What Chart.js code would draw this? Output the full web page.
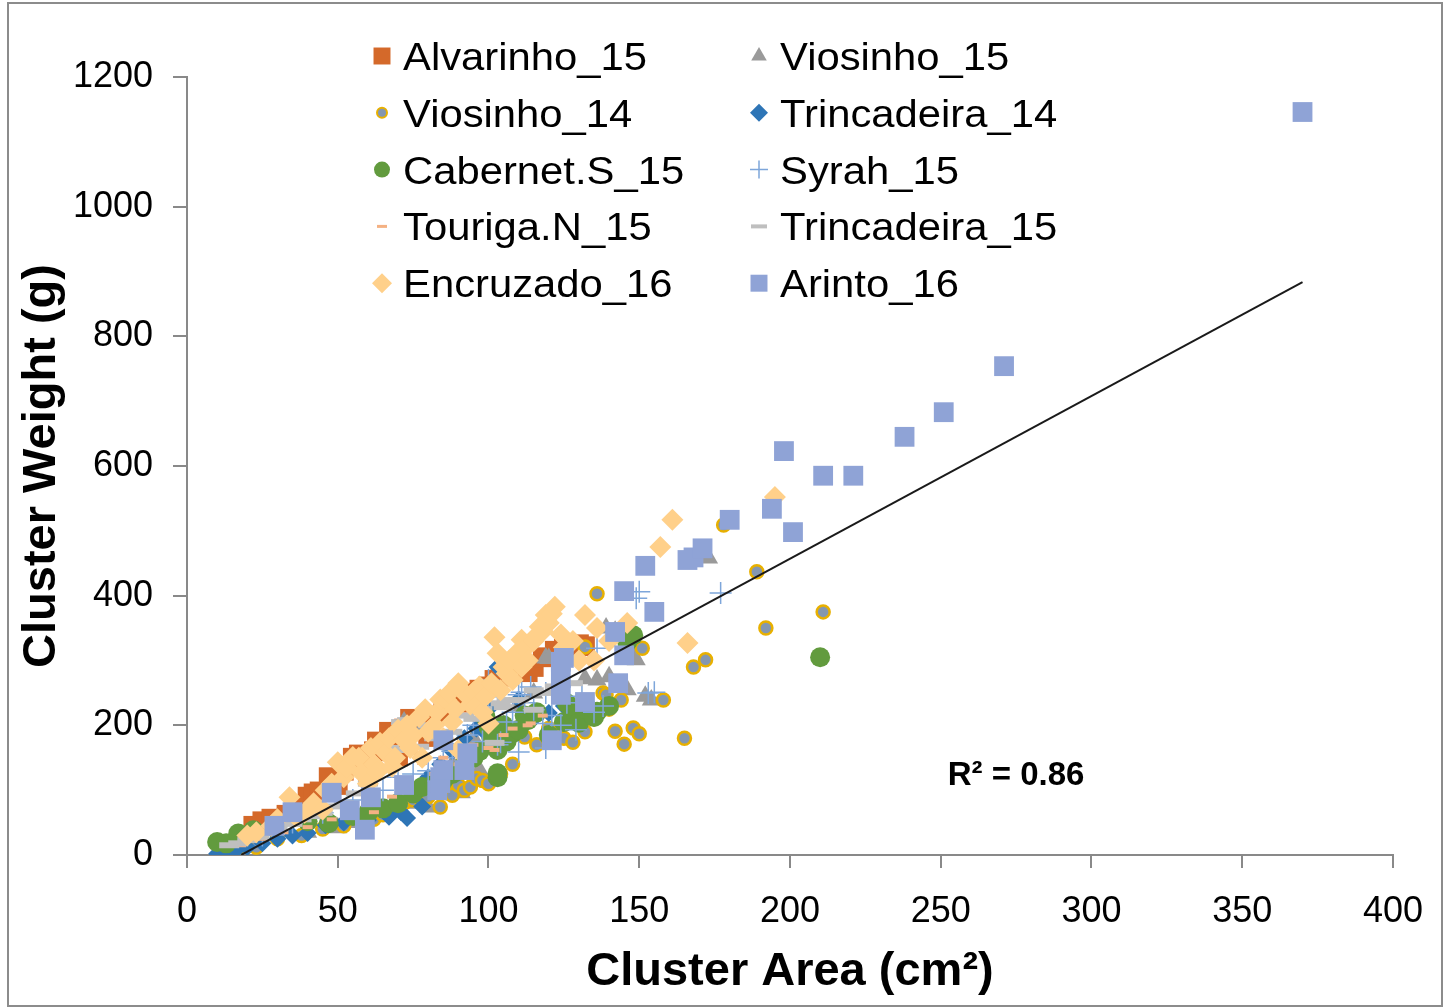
<!DOCTYPE html>
<html>
<head>
<meta charset="utf-8">
<script src="https://cdn.jsdelivr.net/npm/chart.js"></script>
<style>
body { margin: 0; background: #fff; }
#frame { position: absolute; left: 7px; top: 2px; width: 1436px; height: 1005px; border: 2px solid #8c8c8c; box-sizing: border-box; }
#wrap { position: absolute; left: 0; top: 0; width: 1445px; height: 1008px; }
</style>
</head>
<body>
<div id="frame"></div>
<div id="wrap"><canvas id="graph1"></canvas></div>
<script>
// series: [cluster area cm2, cluster weight g]
var alvarinho15 = [[22,45],[25,52],[28,56],[33,62],[36,72],[40,90],[42,95],[44,98],[47,120],[50,108],[52,130],[55,150],[57,155],[58,140],[60,122],[62,160],[63,175],[65,170],[67,190],[68,182],[70,152],[72,195],[74,210],[76,205],[78,200],[80,182],[82,215],[85,225],[86,230],[88,240],[90,235],[92,250],[95,242],[97,255],[100,260],[102,270],[104,275],[106,285],[108,295],[110,300],[113,282],[115,290],[118,305],[122,315],[125,318],[128,322],[130,325],[132,322]];
var viosinho15 = [[40,35],[50,42],[55,50],[60,55],[65,60],[70,75],[75,80],[72,205],[78,195],[80,74],[84,116],[88,140],[91,96],[95,180],[97,131],[100,170],[105,200],[110,230],[115,250],[119,304],[120,303],[125,270],[128,205],[132,272],[136,270],[139,350],[140,275],[142,345],[146,255],[148,308],[149,301],[152,245],[154,239],[173,458]];
var viosinho14 = [[17,10],[23,12],[30,25],[38,30],[45,40],[52,45],[58,50],[62,55],[65,62],[70,70],[72,80],[75,85],[78,82],[80,90],[84,74],[86,96],[88,92],[90,108],[92,100],[94,105],[96,118],[98,115],[100,110],[104,125],[108,140],[112,182],[116,170],[120,195],[122,185],[125,180],[128,174],[132,190],[132,321],[135,210],[136,403],[138,250],[139,247],[140,225],[142,191],[144,239],[145,171],[148,196],[150,187],[151,319],[158,239],[165,180],[168,290],[172,301],[178,509],[189,437],[192,350],[211,375]];
var trincadeira14 = [[10,2],[13,4],[16,6],[20,12],[25,18],[30,25],[35,30],[40,34],[46,46],[52,50],[60,54],[67,59],[71,66],[73,57],[78,75],[80,120],[84,140],[88,160],[92,180],[96,195],[98,193],[100,225],[103,290],[107,180],[110,240],[115,210],[120,219],[125,230]];
var cabernet15 = [[10,20],[13,18],[17,33],[22,38],[30,45],[40,52],[47,49],[55,60],[60,65],[65,72],[70,80],[75,95],[78,105],[82,110],[85,115],[88,125],[90,130],[92,140],[95,150],[97,160],[99,213],[100,198],[101,180],[103,120],[103,126],[103,162],[105,200],[106,175],[108,188],[110,193],[112,215],[113,208],[116,220],[120,185],[125,205],[126,234],[128,215],[130,204],[132,225],[135,213],[136,221],[140,230],[146,329],[148,339],[210,305]];
var syrah15 = [[25,30],[35,50],[45,65],[55,85],[65,100],[70,120],[75,125],[80,130],[85,150],[88,160],[90,165],[93,185],[95,200],[98,175],[100,244],[100,270],[103,170],[104,174],[106,205],[108,220],[110,159],[110,247],[111,251],[112,235],[114,259],[115,224],[118,203],[119,165],[119,250],[121,215],[124,200],[126,235],[129,193],[131,245],[135,220],[136,319],[138,230],[149,396],[150,406],[153,250],[155,251],[177,404]];
var tourigaN15 = [[18,15],[25,25],[32,35],[40,43],[48,55],[55,62],[62,66],[68,90],[72,110],[76,157],[78,142],[82,125],[85,150],[90,140],[95,170],[100,165],[102,162],[105,185],[108,195],[113,200],[114,203],[118,215]];
var trincadeira15 = [[14,15],[17,18],[20,23],[24,28],[30,40],[35,48],[38,55],[42,60],[45,65],[48,75],[52,80],[56,95],[60,110],[63,130],[67,165],[69,162],[71,205],[73,208],[77,167],[80,200],[82,180],[88,190],[92,215],[95,210],[98,225],[102,173],[104,234],[105,228],[106,239],[110,239],[115,224],[115,254],[118,250],[122,260],[128,265]];
var encruzado16 = [[20,30],[23,35],[28,45],[30,55],[34,89],[36,60],[39,65],[42,80],[45,70],[46,100],[48,110],[50,143],[52,120],[53,135],[55,151],[57,150],[58,126],[60,110],[61,165],[62,140],[63,128],[64,173],[66,157],[67,180],[68,136],[69,150],[70,193],[72,177],[73,200],[74,165],[75,185],[77,213],[78,150],[79,225],[80,190],[82,200],[83,220],[84,240],[85,180],[86,239],[87,250],[88,205],[89,225],[90,265],[90,162],[91,255],[93,245],[94,232],[95,251],[96,231],[97,260],[98,220],[99,245],[100,203],[101,265],[102,336],[103,311],[104,254],[105,290],[106,280],[107,300],[108,270],[109,310],[111,332],[111,290],[112,318],[113,300],[115,330],[116,339],[117,352],[118,345],[119,370],[120,358],[121,372],[122,383],[124,340],[125,320],[128,330],[130,300],[132,370],[135,300],[136,350],[140,330],[146,358],[157,475],[161,517],[166,327],[195,552]];
var arinto16 = [[29,45],[35,66],[48,96],[54,69],[59,39],[61,89],[72,108],[83,100],[84,111],[84,120],[85,177],[85,131],[92,131],[93,157],[121,177],[124,247],[124,273],[124,298],[125,304],[132,236],[142,344],[143,265],[145,308],[145,407],[152,446],[155,375],[166,455],[168,459],[171,473],[180,517],[194,534],[198,623],[201,498],[211,585],[221,585],[238,645],[251,683],[271,754],[370,1146]];

var seriesNames = ['Alvarinho_15', 'Viosinho_15', 'Viosinho_14', 'Trincadeira_14', 'Cabernet.S_15', 'Syrah_15', 'Touriga.N_15', 'Trincadeira_15', 'Encruzado_16', 'Arinto_16'];
var seriesData = [alvarinho15, viosinho15, viosinho14, trincadeira14, cabernet15, syrah15, tourigaN15, trincadeira15, encruzado16, arinto16];

// linear trend
var trendSlope = 2.51;
var trendIntercept = -45;
var trendRange = [18, 370];
var rSquared = '0.86';

var xTicks = [0, 400, 50];
var yTicks = [0, 1200, 200];

var seriesStyles = [
  { shape: 'rect', color: '#D4692A', radius: 14, bw: 0, lr: 12, lbw: 0 },
  { shape: 'triangle', color: '#9A9A9A', radius: 11, bw: 0, lr: 9, lbw: 0 },
  { shape: 'circle', color: '#8497B0', border: '#E8B000', radius: 6.5, bw: 2.5, lr: 5, lbw: 2 },
  { shape: 'rectRot', color: '#2E75B6', radius: 9, bw: 0, lr: 9, lbw: 0 },
  { shape: 'circle', color: '#629B3E', radius: 10, bw: 0, lr: 8, lbw: 0 },
  { shape: 'cross', color: '#7EA6DA', radius: 11, bw: 1.5, lr: 9, lbw: 1.5 },
  { shape: 'line', color: '#F4B183', radius: 5, bw: 4, lr: 5, lbw: 3 },
  { shape: 'line', color: '#BFBFBF', radius: 10, bw: 6, lr: 8, lbw: 4 },
  { shape: 'rectRot', color: '#FFD08A', radius: 11, bw: 0, lr: 10, lbw: 0 },
  { shape: 'rect', color: '#8FA3D6', radius: 14, bw: 0, lr: 12, lbw: 0 }
];

var fontFamily = '"Liberation Sans", Arial, sans-serif';
Chart.defaults.font.family = fontFamily;

var datasets = seriesNames.map(function (name, i) {
  var st = seriesStyles[i];
  return {
    label: name,
    data: seriesData[i].map(function (p) { return { x: p[0], y: p[1] }; }),
    pointStyle: st.shape,
    pointRadius: st.radius,
    backgroundColor: st.color,
    borderColor: st.border || st.color,
    borderWidth: st.bw,
    showLine: false,
    order: seriesNames.length - i
  };
});

datasets.push({
  label: 'trend',
  data: trendRange.map(function (x) { return { x: x, y: trendSlope * x + trendIntercept }; }),
  showLine: true,
  borderColor: '#1a1a1a',
  borderWidth: 2,
  pointRadius: 0,
  order: 0
});

var legendPlugin = {
  id: 'twoColLegend',
  afterDraw: function (chart) {
    var ctx = chart.ctx;
    for (var i = 0; i < seriesNames.length; i++) {
      var st = seriesStyles[i];
      var ix = i % 2 === 0 ? 382 : 759;
      var iy = 56 + Math.floor(i / 2) * 56.8;
      ctx.save();
      ctx.fillStyle = st.color;
      ctx.strokeStyle = st.border || st.color;
      ctx.lineWidth = st.lbw;
      Chart.helpers.drawPoint(ctx, { pointStyle: st.shape, radius: st.lr, borderWidth: st.lbw, rotation: 0 }, ix, iy);
      ctx.restore();

      ctx.save();
      ctx.translate(ix + 21, iy + 14);
      ctx.scale(1.1, 1);
      ctx.fillStyle = '#000';
      ctx.font = '38px ' + fontFamily;
      ctx.textBaseline = 'alphabetic';
      ctx.fillText(seriesNames[i], 0, 0);
      ctx.restore();
    }

    var xs = chart.scales.x, ys = chart.scales.y;
    ctx.save();
    ctx.fillStyle = '#000';
    ctx.font = 'bold 33px ' + fontFamily;
    ctx.textAlign = 'center';
    ctx.textBaseline = 'middle';
    ctx.fillText('R\u00b2 = ' + rSquared, xs.getPixelForValue(275), ys.getPixelForValue(122));
    ctx.restore();
  }
};

var context = document.getElementById('graph1').getContext('2d');
var chart = new Chart(context, {
  type: 'scatter',
  data: { datasets: datasets },
  options: {
    responsive: true,
    maintainAspectRatio: false,
    devicePixelRatio: 1,
    animation: false,
    layout: { padding: { left: 0, right: 52, top: 77, bottom: 0 } },
    plugins: { legend: { display: false }, tooltip: { enabled: false } },
    scales: {
      x: {
        type: 'linear',
        min: xTicks[0], max: xTicks[1],
        ticks: { stepSize: xTicks[2], color: '#000', font: { size: 36 }, padding: 22, maxRotation: 0,
          callback: function (v) { return String(v); } },
        grid: { drawOnChartArea: false, tickLength: 13, color: '#898989', lineWidth: 2 },
        border: { color: '#898989', width: 2 },
        title: { display: true, text: 'Cluster Area (cm\u00b2)', color: '#000', font: { size: 47, weight: 'bold' }, padding: { top: 0, bottom: 8 } },
        afterFit: function (s) { s.height = 153; }
      },
      y: {
        type: 'linear',
        min: yTicks[0], max: yTicks[1],
        ticks: { stepSize: yTicks[2], color: '#000', font: { size: 36 }, padding: 20,
          callback: function (v) { return String(v); } },
        grid: { drawOnChartArea: false, tickLength: 14, color: '#898989', lineWidth: 2 },
        border: { color: '#898989', width: 2 },
        title: { display: true, text: 'Cluster Weight (g)', color: '#000', font: { size: 47, weight: 'bold' }, padding: { top: 14, bottom: 0 } },
        afterFit: function (s) { s.width = 187; }
      }
    }
  },
  plugins: [legendPlugin]
});
</script>
</body>
</html>
